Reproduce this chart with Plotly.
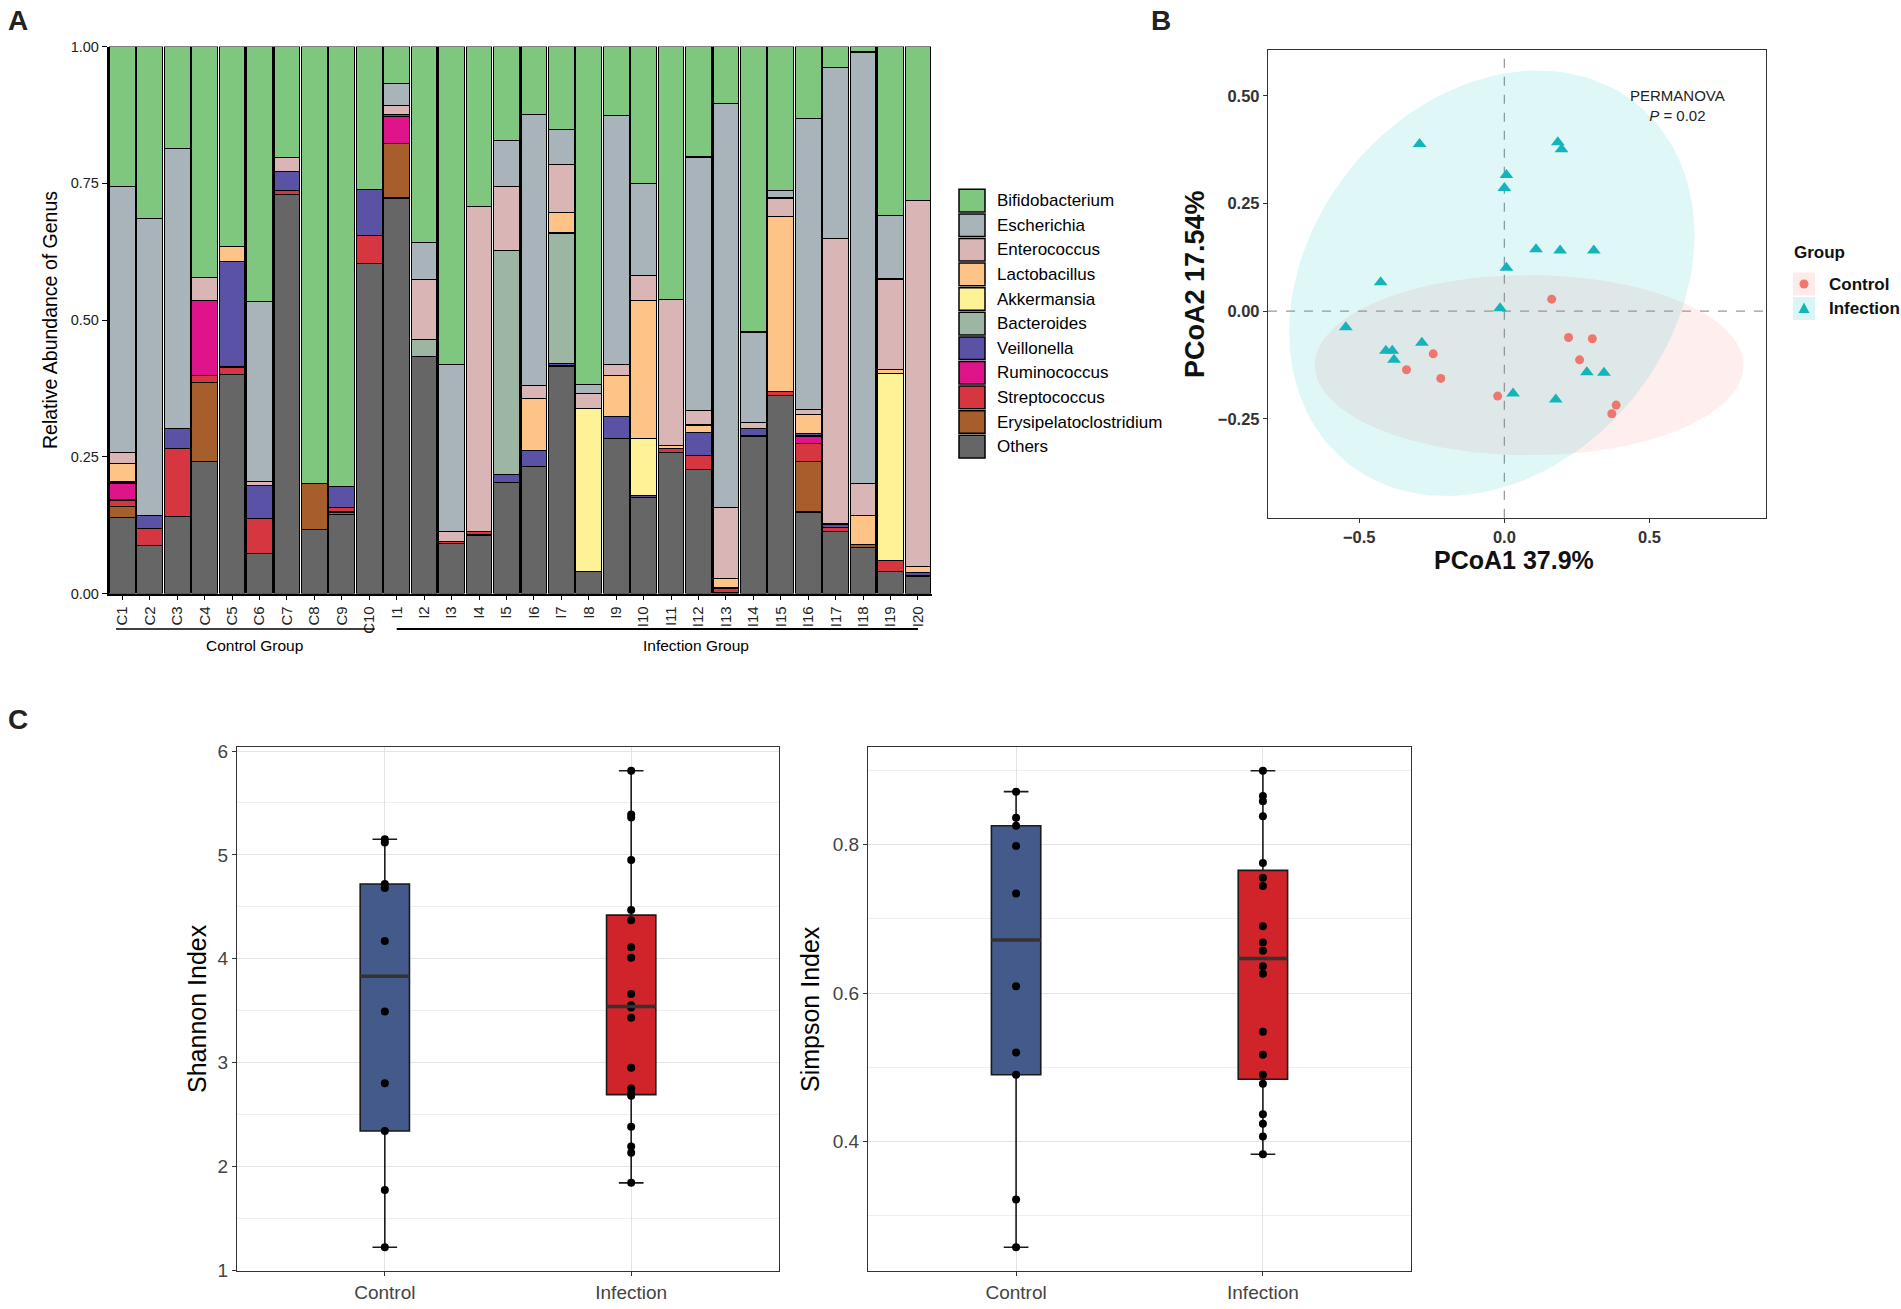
import numpy as np
import plotly.graph_objects as go

W, H = 1901, 1309

# ---------------- Panel A data: relative abundance per sample ----------------
samples = ["C1", "C2", "C3", "C4", "C5", "C6", "C7", "C8", "C9", "C10",
           "I1", "I2", "I3", "I4", "I5", "I6", "I7", "I8", "I9", "I10",
           "I11", "I12", "I13", "I14", "I15", "I16", "I17", "I18", "I19", "I20"]

others = [0.139, 0.087, 0.140, 0.241, 0.400, 0.073, 0.730, 0.117, 0.144, 0.603,
          0.723, 0.433, 0.091, 0.107, 0.203, 0.233, 0.416, 0.041, 0.283, 0.175,
          0.257, 0.227, 0.002, 0.288, 0.362, 0.149, 0.113, 0.084, 0.041, 0.032]
erysipelatoclostridium = [0.020, 0, 0, 0.145, 0, 0, 0, 0.084, 0.005, 0,
                          0.099, 0, 0, 0, 0, 0, 0, 0, 0, 0,
                          0, 0, 0, 0, 0, 0.092, 0, 0.005, 0, 0]
streptococcus = [0.012, 0.032, 0.125, 0.012, 0.014, 0.064, 0.006, 0, 0.008, 0.052,
                 0, 0, 0.004, 0.006, 0, 0, 0, 0, 0, 0,
                 0.008, 0.026, 0.008, 0, 0.008, 0.033, 0.008, 0, 0.019, 0]
ruminococcus = [0.031, 0, 0, 0.137, 0, 0, 0, 0, 0, 0,
                0.050, 0, 0, 0, 0, 0, 0, 0, 0, 0,
                0, 0, 0, 0, 0, 0.014, 0, 0, 0, 0]
veillonella = [0.003, 0.024, 0.037, 0, 0.193, 0.061, 0.035, 0, 0.038, 0.084,
               0.004, 0, 0, 0, 0.014, 0.028, 0.005, 0, 0.040, 0.004,
               0, 0.041, 0, 0.014, 0, 0.004, 0.006, 0, 0, 0.007]
bacteroides = [0, 0, 0, 0, 0, 0, 0, 0, 0, 0,
               0, 0.031, 0, 0, 0.410, 0, 0.238, 0, 0, 0,
               0, 0, 0, 0, 0, 0, 0, 0, 0, 0]
akkermansia = [0, 0, 0, 0, 0, 0, 0, 0, 0, 0,
               0, 0, 0, 0, 0, 0, 0, 0.298, 0, 0.104,
               0, 0, 0, 0, 0, 0, 0, 0, 0.342, 0]
lactobacillus = [0.032, 0, 0, 0, 0.028, 0, 0, 0, 0, 0,
                 0, 0, 0, 0, 0, 0.095, 0.038, 0, 0.075, 0.252,
                 0.006, 0.014, 0.017, 0, 0.319, 0.036, 0, 0.054, 0.008, 0.010]
enterococcus = [0.021, 0, 0, 0.043, 0, 0.006, 0.026, 0, 0, 0,
                0.016, 0.110, 0.018, 0.595, 0.117, 0.024, 0.088, 0.027, 0.020, 0.046,
                0.267, 0.026, 0.130, 0.010, 0.034, 0.008, 0.522, 0.058, 0.165, 0.670]
escherichia = [0.486, 0.542, 0.511, 0, 0, 0.330, 0, 0, 0, 0,
               0.040, 0.067, 0.305, 0, 0.084, 0.496, 0.063, 0.016, 0.456, 0.168,
               0, 0.464, 0.739, 0.166, 0.014, 0.532, 0.313, 0.789, 0.116, 0]
bifidobacterium = [0.256, 0.315, 0.187, 0.422, 0.365, 0.466, 0.203, 0.799, 0.805, 0.261,
                   0.068, 0.359, 0.582, 0.292, 0.172, 0.124, 0.152, 0.618, 0.126, 0.251,
                   0.462, 0.202, 0.104, 0.522, 0.263, 0.132, 0.038, 0.010, 0.309, 0.281]

genus_names = ["Bifidobacterium", "Escherichia", "Enterococcus", "Lactobacillus",
               "Akkermansia", "Bacteroides", "Veillonella", "Ruminococcus",
               "Streptococcus", "Erysipelatoclostridium", "Others"]
genus_values = [bifidobacterium, escherichia, enterococcus, lactobacillus,
                akkermansia, bacteroides, veillonella, ruminococcus,
                streptococcus, erysipelatoclostridium, others]
genus_colors = ["#7FC77F", "#A8B4BA", "#D9B5B5", "#FDC387", "#FEF296", "#9CB6A3",
                "#5A53A5", "#E0148A", "#D5363F", "#A65E2D", "#666666"]

# ---------------- Panel B data: PCoA coordinates ----------------
ctrl_pc1 = [0.163, 0.221, 0.303, 0.259, -0.245, -0.337, -0.219, -0.023, 0.385, 0.370]
ctrl_pc2 = [0.028, -0.061, -0.064, -0.113, -0.099, -0.136, -0.156, -0.197, -0.218, -0.238]
inf_pc1 = [-0.292, 0.184, 0.197, 0.007, 0.000, 0.109, 0.192, 0.308, 0.007, -0.426,
           -0.015, -0.546, -0.284, -0.408, -0.386, -0.380, 0.284, 0.343, 0.030, 0.177]
inf_pc2 = [0.388, 0.392, 0.376, 0.316, 0.286, 0.144, 0.141, 0.141, 0.101, 0.067,
           0.007, -0.037, -0.073, -0.092, -0.092, -0.113, -0.142, -0.143, -0.191, -0.205]

# ---------------- Panel C data: alpha diversity ----------------
shannon_control = [5.15, 5.12, 4.72, 4.68, 4.17, 3.49, 2.80, 2.34, 1.77, 1.22]
shannon_infection = [5.81, 5.39, 5.36, 4.95, 4.47, 4.37, 4.11, 4.01, 3.66, 3.55,
                     3.53, 3.43, 2.95, 2.75, 2.70, 2.68, 2.38, 2.19, 2.13, 1.84]
simpson_control = [0.871, 0.836, 0.825, 0.798, 0.734, 0.609, 0.520, 0.490, 0.322, 0.258]
simpson_infection = [0.899, 0.865, 0.858, 0.838, 0.775, 0.755, 0.744, 0.690, 0.668, 0.657,
                     0.636, 0.626, 0.548, 0.517, 0.490, 0.478, 0.437, 0.424, 0.407, 0.383]
groups = ["Control", "Infection"]

FONT = "Liberation Sans, Arial, Helvetica, sans-serif"


def px(x):
    return x / W


def py(y):
    return 1 - y / H


def note(text, x, y, size, color="black", bold=False, angle=0, xanchor="center",
         yanchor="middle", xref="paper", yref="paper", align="center"):
    f = dict(family=FONT, size=size, color=color)
    if bold:
        f["weight"] = "bold"
    return dict(text=text, xref=xref, yref=yref,
                x=px(x) if xref == "paper" else x,
                y=py(y) if yref == "paper" else y,
                xanchor=xanchor, yanchor=yanchor, textangle=angle,
                showarrow=False, align=align, font=f)


fig = go.Figure()
annotations = []
shapes = []

# ---------------- Panel A ----------------
for name, vals, col in reversed(list(zip(genus_names, genus_values, genus_colors))):
    fig.add_trace(go.Bar(
        x=samples, y=[v if v > 0 else None for v in vals], name=name,
        marker=dict(color=col, line=dict(color="black", width=1.1)),
        xaxis="x", yaxis="y", showlegend=False))

A_L, A_R, A_T, A_B = 108.6, 931.7, 46.5, 593.5

# legend for panel A
leg_top, leg_h = 188.3, 24.6
for i, (name, col) in enumerate(zip(genus_names, genus_colors)):
    y0 = leg_top + i * leg_h
    shapes.append(dict(type="rect", xref="paper", yref="paper",
                       x0=px(959), x1=px(985), y0=py(y0 + 1), y1=py(y0 + leg_h - 1),
                       fillcolor=col, line=dict(color="black", width=1.5)))
    annotations.append(note(name, 995, y0 + leg_h / 2, 17, xanchor="left"))

# group underlines and labels
line_y = py(629)
shapes.append(dict(type="line", xref="x", yref="paper", x0=-0.23, x1=9.2,
                   y0=line_y, y1=line_y, line=dict(color="black", width=1.6)))
shapes.append(dict(type="line", xref="x", yref="paper", x0=10.0, x1=29.0,
                   y0=line_y, y1=line_y, line=dict(color="black", width=2.2)))
annotations.append(note("Control Group", 4.8, 645, 15.5, xref="x"))
annotations.append(note("Infection Group", 20.9, 645, 15.5, xref="x"))
annotations.append(note("Relative Abundance of Genus", 50, (A_T + A_B) / 2, 19.5, angle=-90))

# ---------------- Panel B ----------------
def cov_trob(X, nu=5, maxit=25, tol=0.01):
    n, p = X.shape
    wt = np.ones(n)
    loc = X.mean(axis=0)
    w = np.sqrt(wt)
    Xc = X - loc
    for _ in range(maxit):
        w0 = w
        Xc = X - loc
        A = np.sqrt(w / w.sum())[:, None] * Xc
        _, d, Vt = np.linalg.svd(A, full_matrices=False)
        wX = Xc @ Vt.T @ np.diag(1 / d)
        Q = (wX ** 2).sum(axis=1)
        w = wt * (nu + p) / (nu + Q)
        loc = (w[:, None] * X).sum(axis=0) / w.sum()
        if np.all(np.abs(w - w0) < tol):
            break
    sw = np.sqrt(w)[:, None] * Xc
    cov = sw.T @ sw / wt.sum()
    return cov, loc


def ellipse(xs, ys, level=0.95, segments=120):
    X = np.column_stack([xs, ys])
    cov, center = cov_trob(X)
    dfd = len(xs) - 1
    qf = (dfd / 2.0) * ((1 - level) ** (-2.0 / dfd) - 1)  # F quantile, dfn = 2
    radius = np.sqrt(2 * qf)
    U = np.linalg.cholesky(cov).T
    ang = np.linspace(0, 2 * np.pi, segments + 1)
    circ = np.column_stack([np.cos(ang), np.sin(ang)])
    e = center + radius * (circ @ U)
    return e[:, 0], e[:, 1]


ex, ey = ellipse(ctrl_pc1, ctrl_pc2)
fig.add_trace(go.Scatter(x=ex, y=ey, mode="lines", fill="toself",
                         fillcolor="rgba(248,118,109,0.12)", line=dict(width=0),
                         xaxis="x2", yaxis="y2", showlegend=False, hoverinfo="skip"))
ex, ey = ellipse(inf_pc1, inf_pc2)
fig.add_trace(go.Scatter(x=ex, y=ey, mode="lines", fill="toself",
                         fillcolor="rgba(0,191,196,0.12)", line=dict(width=0),
                         xaxis="x2", yaxis="y2", showlegend=False, hoverinfo="skip"))

B_XR = [-0.814, 0.901]
B_YR = [-0.4796, 0.607]
shapes.append(dict(type="line", xref="x2", yref="y2 domain", x0=0, x1=0, y0=0, y1=1,
                   line=dict(color="#9A9A9A", width=1.3, dash="dash"), layer="below"))
shapes.append(dict(type="line", xref="x2 domain", yref="y2", x0=0, x1=1, y0=0, y1=0,
                   line=dict(color="#9A9A9A", width=1.3, dash="dash"), layer="below"))

fig.add_trace(go.Scatter(x=ctrl_pc1, y=ctrl_pc2, mode="markers",
                         marker=dict(symbol="circle", size=9, color="#EE766D"),
                         xaxis="x2", yaxis="y2", showlegend=False))
fig.add_trace(go.Scatter(x=inf_pc1, y=inf_pc2, mode="markers",
                         marker=dict(symbol="triangle-up", size=12, color="#14B5BA"),
                         xaxis="x2", yaxis="y2", showlegend=False))

annotations.append(note("PERMANOVA<br><i>P</i> = 0.02", 0.595, 0.478, 15, color="#222",
                        xref="x2", yref="y2"))
annotations.append(note("PCoA1 37.9%", 1514, 560, 25, color="#111", bold=True))
annotations.append(note("PCoA2 17.54%", 1195, 284, 27, color="#111", bold=True, angle=-90))

# group legend for panel B
annotations.append(note("Group", 1792, 252, 17, color="#111", bold=True, xanchor="left"))
for label, cy, fillc in [("Control", 284, "rgba(248,118,109,0.15)"),
                         ("Infection", 308.5, "rgba(0,191,196,0.15)")]:
    shapes.append(dict(type="rect", xref="paper", yref="paper", x0=px(1793), x1=px(1815),
                       y0=py(cy - 11.5), y1=py(cy + 11.5), fillcolor=fillc, line=dict(width=0)))
    annotations.append(note(label, 1827, cy, 17, color="#111", bold=True, xanchor="left"))
shapes.append(dict(type="circle", xref="paper", yref="paper", x0=px(1799.5), x1=px(1808.5),
                   y0=py(288.5), y1=py(279.5), fillcolor="#EE766D", line=dict(width=0)))
tx, ty = 1804, 308.5
tri = "M {:.5f},{:.5f} L {:.5f},{:.5f} L {:.5f},{:.5f} Z".format(
    px(tx - 5.5), py(ty + 4.5), px(tx + 5.5), py(ty + 4.5), px(tx), py(ty - 6))
shapes.append(dict(type="path", xref="paper", yref="paper", path=tri,
                   fillcolor="#14B5BA", line=dict(width=0)))

# ---------------- Panel C ----------------
box_specs = [
    ("x3", "y3", shannon_control, shannon_infection),
    ("x4", "y4", simpson_control, simpson_infection),
]
box_colors = ["#435A8B", "#D1232A"]
for xa, ya, ctrl, inf in box_specs:
    for gi, (g, data, col) in enumerate(zip(groups, [ctrl, inf], box_colors)):
        fig.add_trace(go.Box(
            x=[g] * len(data), y=data, name=g, xaxis=xa, yaxis=ya,
            boxpoints="all", jitter=0, pointpos=0, width=0.2, whiskerwidth=0.5,
            quartilemethod="exclusive", fillcolor=col,
            line=dict(color="#1A1A1A", width=1.6),
            marker=dict(color="black", size=8), showlegend=False))
        med = float(np.median(data))
        shapes.append(dict(type="line", xref=xa, yref=ya, x0=gi - 0.1, x1=gi + 0.1,
                           y0=med, y1=med, line=dict(color="#333333", width=3.5)))


def expanded(a, b):
    lo = min(min(a), min(b))
    hi = max(max(a), max(b))
    pad = 0.05 * (hi - lo)
    return [lo - pad, hi + pad]


C_T, C_B = 747, 1271
annotations.append(note("Shannon Index", 197, (C_T + C_B) / 2, 25, angle=-90))
annotations.append(note("Simpson Index", 810, (C_T + C_B) / 2, 25, angle=-90))

# panel letters
for letter, x, y in [("A", 18, 21), ("B", 1161, 21), ("C", 18, 719)]:
    annotations.append(note(letter, x, y, 28, color="#222", bold=True))

grid_c = "#E3E3E3"
minor_c = "#EFEFEF"
c_axis_common = dict(showline=True, mirror=True, linecolor="#333333", linewidth=1.3,
                     ticks="outside", ticklen=4, tickcolor="#333333", zeroline=False,
                     tickfont=dict(family=FONT, size=19, color="#444"))
b_tickfont = dict(family=FONT, size=16.5, color="#333", weight="bold")

fig.update_layout(
    width=W, height=H, autosize=False,
    margin=dict(l=0, r=0, t=0, b=0),
    paper_bgcolor="white", plot_bgcolor="white",
    barmode="stack", bargap=0.06, boxmode="overlay",
    template="none",
    xaxis=dict(domain=[px(A_L), px(A_R)], anchor="y", type="category",
               range=[-0.5, 29.5], tickangle=-90, ticks="outside", ticklen=5,
               tickcolor="black", showline=True, linecolor="black", linewidth=1.6,
               showgrid=False, zeroline=False,
               tickfont=dict(family=FONT, size=15, color="#222")),
    yaxis=dict(domain=[py(A_B), py(A_T)], anchor="x", range=[0, 1],
               tickvals=[0, 0.25, 0.5, 0.75, 1.0],
               ticktext=["0.00", "0.25", "0.50", "0.75", "1.00"],
               ticks="outside", ticklen=5, tickcolor="black", showline=True,
               linecolor="black", linewidth=1.6, showgrid=False, zeroline=False,
               tickfont=dict(family=FONT, size=14.5, color="#222")),
    xaxis2=dict(domain=[px(1268), px(1766)], anchor="y2", range=B_XR,
                tickvals=[-0.5, 0, 0.5], ticktext=["\u22120.5", "0.0", "0.5"],
                ticks="outside", ticklen=4, tickcolor="#333", showline=True, mirror=True,
                linecolor="#333", linewidth=1.3, showgrid=False, zeroline=False,
                tickfont=b_tickfont),
    yaxis2=dict(domain=[py(517.8), py(49.7)], anchor="x2", range=B_YR,
                tickvals=[-0.25, 0, 0.25, 0.5],
                ticktext=["\u22120.25", "0.00", "0.25", "0.50"],
                ticks="outside", ticklen=4, tickcolor="#333", showline=True, mirror=True,
                linecolor="#333", linewidth=1.3, showgrid=False, zeroline=False,
                tickfont=b_tickfont),
    xaxis3=dict(domain=[px(237), px(779)], anchor="y3", type="category",
                categoryorder="array", categoryarray=groups, range=[-0.6, 1.6],
                showgrid=True, gridcolor=grid_c, gridwidth=1, **c_axis_common),
    yaxis3=dict(domain=[py(C_B), py(C_T)], anchor="x3",
                range=expanded(shannon_control, shannon_infection), dtick=1,
                showgrid=True, gridcolor=grid_c, gridwidth=1.2,
                minor=dict(dtick=0.5, showgrid=True, gridcolor=minor_c, gridwidth=1),
                **c_axis_common),
    xaxis4=dict(domain=[px(868), px(1411)], anchor="y4", type="category",
                categoryorder="array", categoryarray=groups, range=[-0.6, 1.6],
                showgrid=True, gridcolor=grid_c, gridwidth=1, **c_axis_common),
    yaxis4=dict(domain=[py(C_B), py(C_T)], anchor="x4",
                range=expanded(simpson_control, simpson_infection),
                tickvals=[0.4, 0.6, 0.8], ticktext=["0.4", "0.6", "0.8"],
                showgrid=True, gridcolor=grid_c, gridwidth=1.2,
                minor=dict(tickvals=[0.3, 0.5, 0.7, 0.9], showgrid=True,
                           gridcolor=minor_c, gridwidth=1, ticks=""),
                **c_axis_common),
    annotations=annotations,
    shapes=shapes,
)

fig.write_html("out.html", config={"displayModeBar": False},
               post_script="document.body.style.margin='0px';")
